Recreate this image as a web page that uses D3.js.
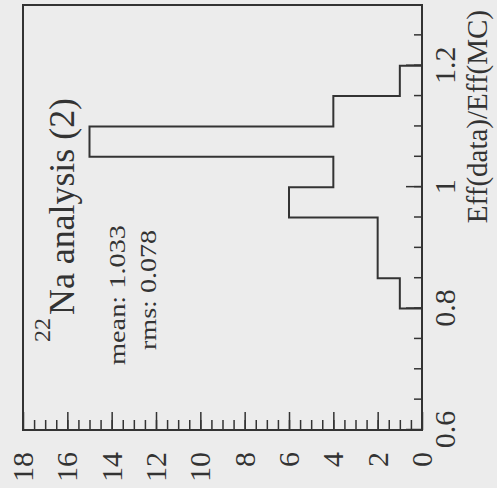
<!DOCTYPE html>
<html>
<head>
<meta charset="utf-8">
<script src="https://cdn.jsdelivr.net/npm/d3@7"></script>
<style>
  html, body { margin: 0; padding: 0; background: #ececec; }
  svg { display: block; }
</style>
</head>
<body>
<script>
(()=>{
    const W = 497;
    const H = 488;

    // histogram bins (lower edges) and entries
    const binEdges = [0.6, 0.65, 0.7, 0.75, 0.8, 0.85, 0.9, 0.95, 1.0, 1.05, 1.1, 1.15, 1.2, 1.25, 1.3];
    const counts   = [0, 0, 0, 0, 1, 2, 2, 6, 4, 15, 4, 1, 0, 0];

    const xTicks = [0.6, 0.8, 1.0, 1.2];
    const xTickLabels = ["0.6", "0.8", "1", "1.2"];
    const yTicks = [0, 2, 4, 6, 8, 10, 12, 14, 16, 18];
    const yTickLabels = ["0", "2", "4", "6", "8", "10", "12", "14", "16", "18"];

    const titleSup = "22";
    const titleMain = "Na analysis (2)";
    const statLines = ["mean: 1.033", "rms: 0.078"];
    const xTitle = "Eff(data)/Eff(MC)";

    const font = "'Liberation Serif', 'DejaVu Serif', serif";
    const ink = "#333";

    const svg = d3.create("svg")
        .attr("width", W)
        .attr("height", H)
        .attr("viewBox", [0, 0, W, H]);

    svg.append("rect").attr("width", W).attr("height", H).attr("fill", "#ececec");

    // whole plot is drawn upright and then turned 90deg counter-clockwise
    const g = svg.append("g")
        .attr("transform", `translate(0,${H}) rotate(-90)`);

    const x = d3.scaleLinear().domain([0.6, 1.3]).range([58, 483]);
    const y = d3.scaleLinear().domain([0, 18]).range([422, 23]);

    // minor ticks
    g.append("g")
        .attr("transform", `translate(0,${y(0)})`)
        .call(d3.axisBottom(x).tickValues(d3.range(0.65, 1.3, 0.05)).tickSizeInner(-8).tickSizeOuter(0).tickFormat(""))
        .call(s => s.select(".domain").remove());
    g.append("g")
        .attr("transform", `translate(${x(0.6)},0)`)
        .call(d3.axisLeft(y).tickValues(d3.range(0.5, 18, 0.5)).tickSizeInner(-10).tickSizeOuter(0).tickFormat(""))
        .call(s => s.select(".domain").remove());

    // major ticks + labels
    const xa = g.append("g")
        .attr("transform", `translate(0,${y(0)})`)
        .call(d3.axisBottom(x).tickValues(xTicks).tickSizeInner(-16).tickSizeOuter(0)
            .tickFormat((d, i) => xTickLabels[i]))
        .call(s => s.select(".domain").remove());
    xa.selectAll("text").attr("y", 33).attr("dy", null)
        .attr("font-family", font).attr("font-size", 30).attr("fill", ink);

    const ya = g.append("g")
        .attr("transform", `translate(${x(0.6)},0)`)
        .call(d3.axisLeft(y).tickValues(yTicks).tickSizeInner(-18).tickSizeOuter(0)
            .tickFormat((d, i) => yTickLabels[i]))
        .call(s => s.select(".domain").remove());
    ya.selectAll("text").attr("x", -22)
        .attr("font-family", font).attr("font-size", 30).attr("fill", ink);

    g.selectAll(".tick line").attr("stroke", ink).attr("stroke-width", 1.5);

    // frame
    g.append("rect")
        .attr("x", x(0.6)).attr("y", y(18))
        .attr("width", x(1.3) - x(0.6)).attr("height", y(0) - y(18))
        .attr("fill", "none").attr("stroke", ink).attr("stroke-width", 2);

    // histogram outline
    const pts = binEdges.map((e, i) => [e, i < counts.length ? counts[i] : 0]);
    const line = d3.line()
        .x(d => x(d[0]))
        .y(d => y(d[1]))
        .curve(d3.curveStepAfter);
    g.append("path")
        .attr("d", line(pts))
        .attr("fill", "none")
        .attr("stroke", ink)
        .attr("stroke-width", 2);

    // title
    g.append("text")
        .attr("x", 146).attr("y", 50)
        .attr("font-family", font).attr("font-size", 24).attr("fill", ink)
        .attr("textLength", 24).attr("lengthAdjust", "spacingAndGlyphs")
        .text(titleSup);
    g.append("text")
        .attr("x", 173).attr("y", 74)
        .attr("font-family", font).attr("font-size", 35).attr("fill", ink)
        .attr("textLength", 217).attr("lengthAdjust", "spacingAndGlyphs")
        .text(titleMain);

    // stats
    g.append("text")
        .attr("x", 123).attr("y", 125)
        .attr("font-family", font).attr("font-size", 23).attr("fill", ink)
        .attr("textLength", 140).attr("lengthAdjust", "spacingAndGlyphs")
        .text(statLines[0]);
    g.append("text")
        .attr("x", 138).attr("y", 156)
        .attr("font-family", font).attr("font-size", 23).attr("fill", ink)
        .attr("textLength", 120).attr("lengthAdjust", "spacingAndGlyphs")
        .text(statLines[1]);

    // axis title
    g.append("text")
        .attr("x", 478).attr("y", 487)
        .attr("text-anchor", "end")
        .attr("font-family", font).attr("font-size", 29).attr("fill", ink)
        .text(xTitle);

    d3.select("body").append(() => svg.node());
})()
</script>
</body>
</html>
